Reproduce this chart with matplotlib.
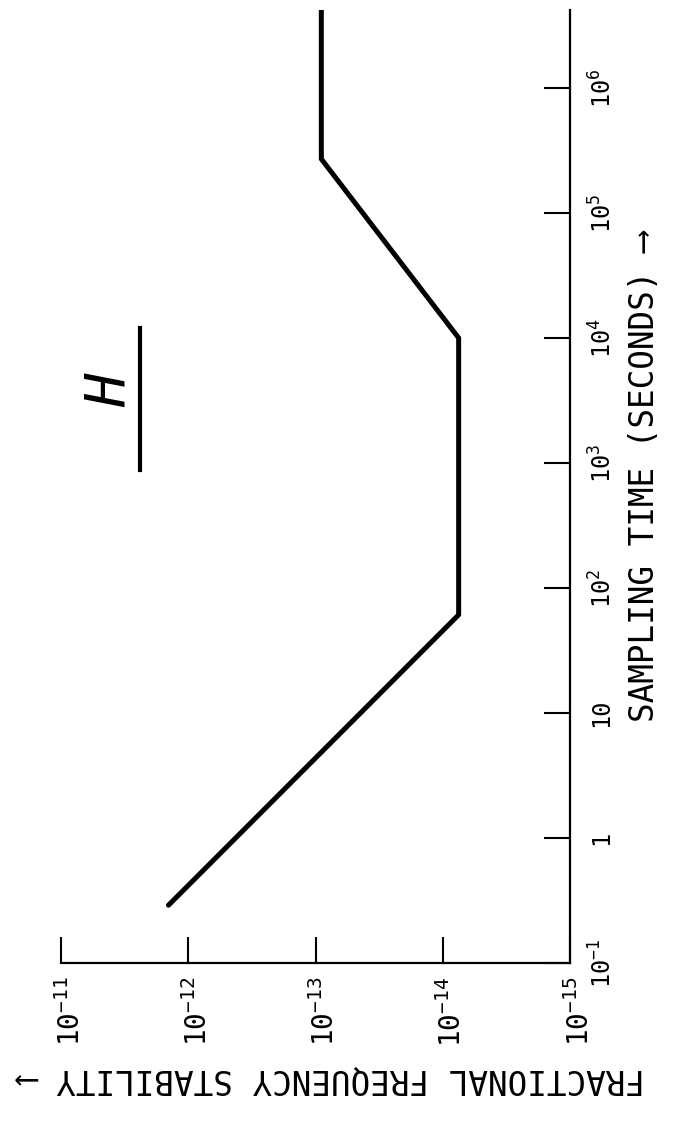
import matplotlib
matplotlib.use("Agg")
import matplotlib.pyplot as plt
from matplotlib.lines import Line2D
from matplotlib.transforms import ScaledTranslation

# Stability curve: sampling time (s) against fractional frequency stability
tau = [0.29, 61.0, 1.0e4, 2.7e5, 4.2e6]
sigma = [1.43e-12, 7.5e-15, 7.5e-15, 9.0e-14, 9.0e-14]

stability_ticks = [1e-11, 1e-12, 1e-13, 1e-14, 1e-15]
stability_labels = [r"$10^{-11}$", r"$10^{-12}$", r"$10^{-13}$",
                    r"$10^{-14}$", r"$10^{-15}$"]
time_ticks = [1e-1, 1, 10, 1e2, 1e3, 1e4, 1e5, 1e6]
time_labels = [r"$10^{-1}$", "1", "10", r"$10^{2}$", r"$10^{3}$",
               r"$10^{4}$", r"$10^{5}$", r"$10^{6}$"]

plt.rcParams["font.family"] = ["DejaVu Sans Mono", "DejaVu Sans"]
plt.rcParams["mathtext.default"] = "regular"

W, H = 678, 1122
fig = plt.figure(figsize=(W / 100, H / 100), dpi=100)
# page is turned sideways: stability runs right-to-left, time runs upward
ax = fig.add_axes([61 / W, 159 / H, 509 / W, 953 / H])

ax.plot(sigma, tau, color="black", lw=3.6,
        solid_capstyle="round", solid_joinstyle="round")

ax.set_xscale("log")
ax.set_yscale("log")
ax.set_xlim(1e-11, 1e-15)
ax.set_ylim(0.1, 4.2e6)

for side in ("left", "top"):
    ax.spines[side].set_visible(False)
for side in ("bottom", "right"):
    ax.spines[side].set_linewidth(1.6)

ax.yaxis.tick_right()
ax.yaxis.set_label_position("right")

ax.set_xticks(stability_ticks)
ax.set_xticklabels(stability_labels, rotation=90, fontsize=20)
ax.set_yticks(time_ticks)
ax.set_yticklabels(time_labels, rotation=90, fontsize=17, va="center")
ax.minorticks_off()
ax.tick_params(axis="x", direction="in", length=18.5, width=1.5, pad=10)
ax.tick_params(axis="y", direction="in", length=18.5, width=1.5, pad=14)

# centre the "10" of each stability label on its tick
shift = ScaledTranslation(7 / 72, 0, fig.dpi_scale_trans)
for lbl in ax.get_xticklabels():
    lbl.set_transform(lbl.get_transform() + shift)

ax.set_xlabel("FRACTIONAL FREQUENCY STABILITY \u27f6", rotation=180,
              fontsize=23.5, labelpad=11)
ax.xaxis.label.set_x(0.53)
ax.set_ylabel("SAMPLING TIME (SECONDS) \u27f6", rotation=90,
              fontsize=23.5, labelpad=8)
ax.yaxis.label.set_y(0.51)

# figure letter with underline
ax.text(0.096, 0.601, "H", transform=ax.transAxes, rotation=90,
        fontsize=40, style="italic", family="DejaVu Sans Mono",
        ha="center", va="center")
ax.add_line(Line2D([0.155, 0.155], [0.517, 0.666], transform=ax.transAxes,
                   color="black", lw=3, clip_on=False))

fig.savefig("out.png", dpi=100)
